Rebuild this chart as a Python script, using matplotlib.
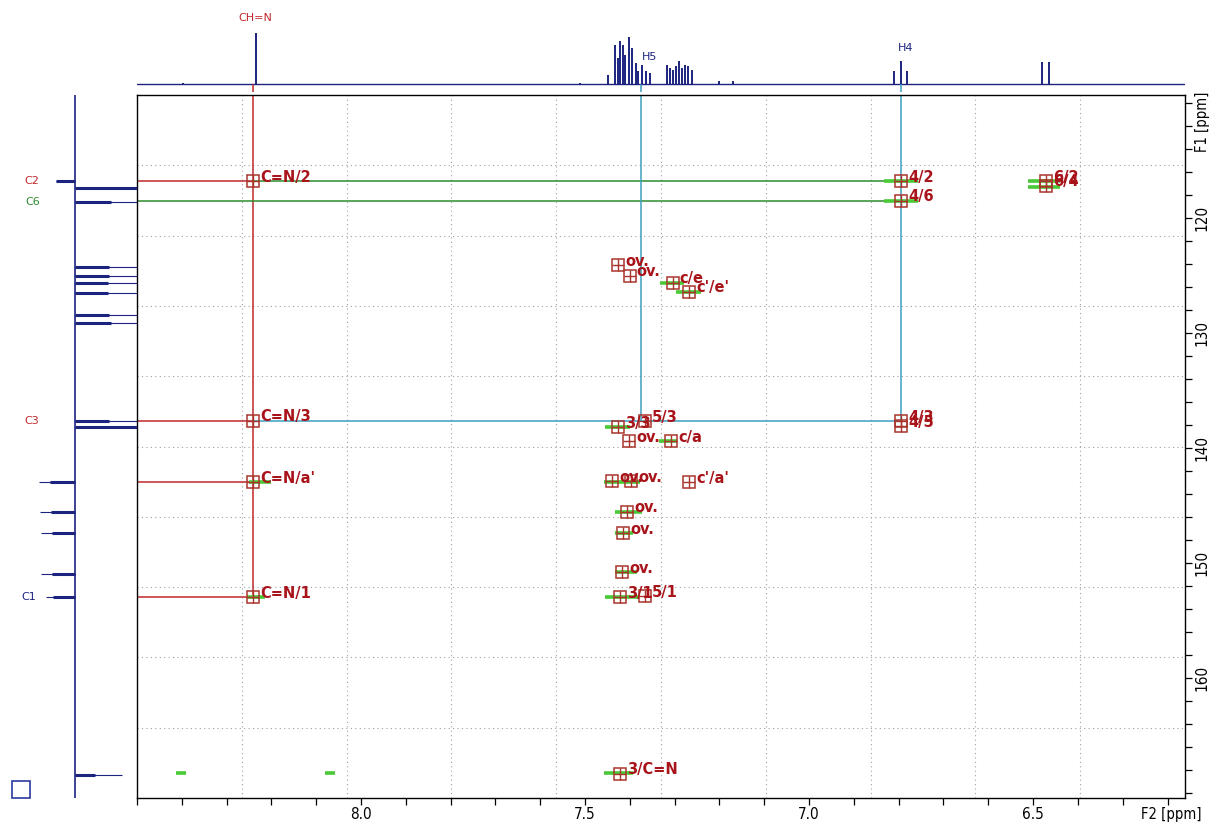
import numpy as np
import matplotlib
matplotlib.use("Agg")
import matplotlib.pyplot as plt
from matplotlib.ticker import FixedLocator, MultipleLocator, FuncFormatter

# ---- 2D cross peaks (F2 = 1H ppm, F1 = 13C ppm) ----
peak_h = [8.241, 8.241, 8.241, 8.241, 6.795, 6.795, 6.795, 6.795, 6.471, 6.471,
          7.426, 7.366, 7.402, 7.308, 7.440, 7.397, 7.268, 7.406, 7.415, 7.417,
          7.422, 7.366, 7.426, 7.400, 7.304, 7.268, 7.422]
peak_c = [116.8, 137.6, 142.96, 152.96, 116.8, 118.5, 137.65, 138.1, 116.8, 117.2,
          138.17, 137.65, 139.4, 139.4, 142.87, 142.87, 142.96, 145.5, 147.4, 150.8,
          152.96, 152.87, 124.1, 125.0, 125.6, 126.4, 168.3]
peak_lbl = ["C=N/2", "C=N/3", "C=N/a'", "C=N/1", "4/2", "4/6", "4/3", "4/5", "6/2", "6/4",
            "3/3", "5/3", "ov.", "c/a", "ov.", "ov.", "c'/a'", "ov.", "ov.", "ov.",
            "3/1", "5/1", "ov.", "ov.", "c/e", "c'/e'", "3/C=N"]

# green contour blobs (centre ppm, F1 ppm, half width ppm)
cont_h = [8.225, 8.235, 6.795, 6.795, 6.475, 6.475, 7.428, 7.315, 7.418, 7.404,
          7.413, 7.408, 7.418, 7.425, 7.306, 7.270, 8.402, 8.069]
cont_c = [142.96, 152.96, 116.8, 118.5, 116.8, 117.3, 138.17, 139.4, 142.9, 145.5,
          147.4, 150.8, 152.96, 168.2, 125.6, 126.4, 168.2, 168.2]
cont_w = [0.025, 0.02, 0.037, 0.037, 0.036, 0.036, 0.028, 0.02, 0.04, 0.03,
          0.02, 0.025, 0.037, 0.033, 0.027, 0.028, 0.012, 0.012]

# top 1H projection: position ppm, height
h1_ppm = [8.397, 8.234, 7.511, 7.449, 7.433, 7.427, 7.422, 7.415, 7.410, 7.402, 7.395,
          7.386, 7.381, 7.372, 7.364, 7.355, 7.317, 7.310, 7.304, 7.297, 7.290, 7.283,
          7.277, 7.270, 7.261, 7.201, 7.170, 6.810, 6.795, 6.781, 6.480, 6.464]
h1_int = [1.5, 51, 1.5, 9, 39, 26, 43, 39, 29, 47, 36,
          21, 13, 19, 13, 11, 19, 16, 14, 18, 23, 16,
          19, 18, 14, 3, 3, 13, 23, 13, 22, 22]

# left 13C projection: position ppm, thick body, full extent
c13_ppm = [116.78, 117.39, 118.61, 124.26, 125.04, 125.65, 126.52, 128.43, 129.13,
           137.65, 138.17, 142.96, 145.57, 147.39, 150.96, 152.96, 168.43]
c13_body = [-19, 62, 36, 34, 34, 33, 33, 34, 36, 34, 62, -25, -24, -23, -23, -22, 20]
c13_tip = [-19, 62, 62, 62, 62, 62, 62, 62, 62, 62, 62, -36, -35, -34, -34, -29, 47]

x_labels = [8.0, 7.5, 7.0, 6.5]
y_labels = [120, 130, 140, 150, 160]

red = "#c0282a"
lbl_red = "#a8141a"
mk_col = "#a8352c"
green = "#2e8b2e"
cyan = "#3c9fbf"
navy = "#1c2480"

plt.rcParams['font.family'] = ['DejaVu Sans']

fig = plt.figure(figsize=(12.14, 8.27), dpi=100)
W, H = 1214, 827

ax = fig.add_axes([137 / W, 1 - 798 / H, 1048 / W, 703 / H])
ax.set_xlim(8.5, 6.161)
ax.set_ylim(170.4, 109.3)

# dotted screen grid (10 divisions)
for f in np.arange(0.1, 1.0, 0.1):
    ax.plot([f, f], [0, 1], transform=ax.transAxes, ls=(0, (1, 3)), color="#a0a0a0", lw=0.8, zorder=0)
    ax.plot([0, 1], [f, f], transform=ax.transAxes, ls=(0, (1, 3)), color="#a0a0a0", lw=0.8, zorder=0)

# assignment lines
x0 = 8.5
ax.plot([8.241, 8.241], [109.3, 152.96], color=red, lw=1.1, zorder=2)
for c in [116.8, 137.6, 142.96, 152.96]:
    ax.plot([x0, 8.241], [c, c], color=red, lw=1.1, zorder=2)
ax.plot([8.241, 6.795], [116.8, 116.8], color=green, lw=1.1, zorder=2)
ax.plot([x0, 6.795], [118.5, 118.5], color=green, lw=1.1, zorder=2)
ax.plot([7.375, 7.375], [109.3, 137.6], color=cyan, lw=1.1, zorder=2)
ax.plot([6.795, 6.795], [109.3, 137.6], color=cyan, lw=1.1, zorder=2)
ax.plot([8.241, 6.795], [137.6, 137.6], color=cyan, lw=1.1, zorder=2)

# contours
for x, y, w in zip(cont_h, cont_c, cont_w):
    ax.plot([x + w, x - w], [y, y], color="#49c936", lw=2.6, solid_capstyle="butt", zorder=3)

# peak markers and labels
ax.plot(peak_h, peak_c, ls="none", marker="s", ms=9, mfc="none", mec=mk_col, mew=1.1, zorder=4)
ax.plot(peak_h, peak_c, ls="none", marker="+", ms=9, mec=mk_col, mew=1.0, zorder=4)
for x, y, t in zip(peak_h, peak_c, peak_lbl):
    ax.annotate(t, (x, y), xytext=(5, 3), textcoords="offset points", fontsize=10.5,
                fontweight="bold", color=lbl_red, va="center", ha="left", zorder=5)

ax.xaxis.set_major_locator(FixedLocator(x_labels))
ax.xaxis.set_minor_locator(MultipleLocator(0.1))
ax.yaxis.set_major_locator(FixedLocator(y_labels))
ax.yaxis.set_minor_locator(MultipleLocator(2))
ax.xaxis.set_major_formatter(FuncFormatter(lambda v, p: "%.1f" % v))
ax.yaxis.tick_right()
ax.tick_params(axis="both", which="both", direction="out", length=5, width=0.9, colors="black")
ax.tick_params(axis="x", labelsize=11, pad=1.5)
ax.tick_params(axis="y", labelsize=11, pad=2)
for lab in ax.get_xticklabels() + ax.get_yticklabels():
    lab.set_fontstretch("condensed")
for lab in ax.get_yticklabels():
    lab.set_rotation(90)
    lab.set_va("center")
for s in ax.spines.values():
    s.set_linewidth(1.0)
fig.text(1141 / W, 1 - 815 / H, "F2 [ppm]", fontsize=10.5, fontstretch="condensed", ha="left", va="center")
fig.text(1203 / W, 1 - 122 / H, "F1 [ppm]", fontsize=10.5, fontstretch="condensed",
         ha="center", va="center", rotation=90)

# top projection
axt = fig.add_axes([137 / W, 1 - 92 / H, 1048 / W, 92 / H])
axt.set_xlim(8.5, 6.161)
axt.set_ylim(-8, 84)
axt.axhline(0, color=navy, lw=1.0)
axt.vlines(h1_ppm, 0, h1_int, color=navy, lw=1.4)
axt.axis("off")
axt.text(8.236, 66, "CH=N", color=red, fontsize=8, ha="center", va="center")
axt.text(7.355, 27, "H5", color=navy, fontsize=8, ha="center", va="center")
axt.text(6.785, 36, "H4", color=navy, fontsize=8, ha="center", va="center")
axt.plot([8.241, 8.241], [-8, -1], color=red, lw=1.1)
axt.plot([7.375, 7.375], [-8, -1], color=cyan, lw=1.1)
axt.plot([6.795, 6.795], [-8, -1], color=cyan, lw=1.1)

# left projection
axl = fig.add_axes([0, 1 - 798 / H, 137 / W, 703 / H])
axl.set_xlim(-75, 62)
axl.set_ylim(170.4, 109.3)
axl.axvline(0, color=navy, lw=1.2)
axl.hlines(c13_ppm, 0, c13_tip, color=navy, lw=0.8)
axl.hlines(c13_ppm, 0, c13_body, color=navy, lw=2.2)
axl.axis("off")
axl.text(-43, 116.78, "C2", color=red, fontsize=8, ha="center", va="center")
axl.text(-42, 118.6, "C6", color=green, fontsize=8, ha="center", va="center")
axl.text(-43, 137.65, "C3", color=red, fontsize=8, ha="center", va="center")
axl.text(-46, 152.96, "C1", color=navy, fontsize=8, ha="center", va="center")

fig.add_artist(plt.Rectangle((12 / W, 1 - 798 / H), 18 / W, 17 / H, fill=False,
                             edgecolor="#2a3aa0", lw=1.2, transform=fig.transFigure))

fig.savefig("out.png", dpi=100)
